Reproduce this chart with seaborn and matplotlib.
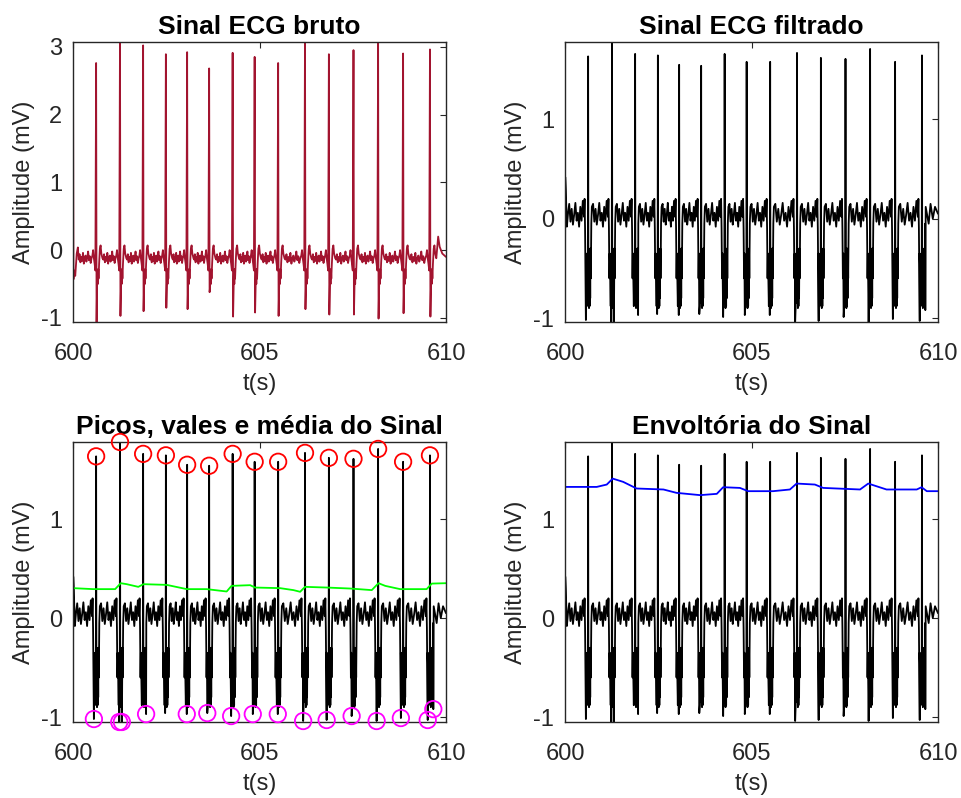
import numpy as np
import pandas as pd
import matplotlib
matplotlib.use("Agg")
import matplotlib.pyplot as plt
import seaborn as sns

# ---------------- data ----------------
r_times = [600.62, 601.26, 601.88, 602.49, 603.06, 603.65, 604.28, 604.87,
           605.50, 606.22, 606.86, 607.52, 608.18, 608.85, 609.57]

# raw ECG
raw_r_amp = [2.76, 3.20, 3.02, 2.89, 2.92, 2.68, 2.91, 2.85, 2.76, 3.25,
             2.89, 2.95, 3.15, 2.90, 2.96]
raw_s_depth = [-1.07, -0.97, -0.90, -0.85, -0.87, -0.62, -0.98, -0.92, -0.97,
               -0.87, -0.95, -0.95, -1.01, -0.93, -0.98]
raw_tmpl_off = [-0.10, -0.08, -0.06, -0.04, -0.02, 0.025, 0.035, 0.045, 0.055,
                0.065, 0.08, 0.10, 0.12, 0.14, 0.17]
raw_tmpl_val = [-0.08, 0.00, -0.12, -0.20, -0.30, -0.55, -0.30, -0.50, -0.28,
                -0.42, -0.20, 0.02, 0.07, -0.05, -0.12]
raw_wiggle = [-0.14, -0.06, -0.18, -0.10, -0.16, -0.04, -0.20, -0.12, -0.08,
              -0.17, -0.11, -0.02, -0.15, -0.09, -0.19, -0.12]
raw_head_t = [600.0, 600.012, 600.03, 600.06, 600.10, 600.13]
raw_head_v = [2.90, -0.43, -0.30, -0.38, -0.05, 0.04]
raw_tail_t = [609.79, 609.83, 609.90, 610.0]
raw_tail_v = [0.20, 0.05, -0.05, -0.10]

# filtered ECG
filt_peak = [1.635, 1.78, 1.66, 1.645, 1.55, 1.54, 1.66, 1.58, 1.58, 1.67,
             1.62, 1.61, 1.71, 1.58, 1.645]
valley_t = [600.56, 601.24, 601.31, 601.96, 603.05, 603.60, 604.24, 604.82,
            605.49, 606.17, 606.80, 607.47, 608.14, 608.79, 609.51, 609.66]
valley_v = [-1.02, -1.05, -1.05, -0.97, -0.97, -0.96, -0.99, -0.97, -0.97,
            -1.04, -1.03, -0.99, -1.04, -1.01, -1.03, -0.92]
extra_dip_t = [602.47]
extra_dip_v = [-0.96]
filt_tmpl_off = [-0.11, -0.095, -0.082, -0.07, -0.06, -0.035, -0.025, -0.015,
                 -0.006, 0.008, 0.016, 0.024, 0.032, 0.040, 0.048, 0.056, 0.064,
                 0.072, 0.085, 0.10]
filt_tmpl_val = [0.02, 0.20, -0.10, -0.60, -0.35, -0.88, -0.40, -0.85,
                 -0.45, -0.85, -0.30, -0.90, -0.45, -0.88, -0.35, -0.80, -0.30,
                 -0.60, -0.05, 0.12]
filt_wiggle = [0.15, -0.03, 0.10, -0.06, 0.04, 0.16, -0.02, 0.06, -0.08, 0.12,
               -0.02, 0.18]
filt_head_t = [600.0, 600.006, 600.02, 600.05, 600.08]
filt_head_v = [-0.78, 0.42, 0.30, -0.08, 0.05]
filt_tail_t = [609.75, 609.80, 609.86, 609.92, 610.0]
filt_tail_v = [-0.05, 0.15, 0.0, 0.12, 0.05]

# mean line (green) and envelope (blue)
mean_t = [600.0, 600.54, 601.13, 601.28, 601.44, 601.75, 601.89, 602.51, 603.05,
          603.58, 604.12, 604.25, 604.75, 604.88, 605.55, 605.91, 606.09, 606.22,
          606.80, 607.43, 608.01, 608.19, 608.37, 608.77, 609.48, 609.62, 610.0]
mean_v = [0.303, 0.293, 0.293, 0.353, 0.343, 0.316, 0.343, 0.336, 0.293,
          0.293, 0.269, 0.326, 0.333, 0.309, 0.303, 0.283, 0.266, 0.316,
          0.309, 0.299, 0.283, 0.353, 0.326, 0.293, 0.293, 0.349, 0.353]
env_t = [600.0, 600.85, 601.12, 601.28, 601.56, 601.92, 602.64, 602.99, 603.62,
         604.07, 604.24, 604.69, 604.91, 605.58, 606.03, 606.21, 606.70, 606.92,
         607.91, 608.13, 608.62, 609.43, 609.56, 609.70, 610.0]
env_v = [1.326, 1.326, 1.35, 1.41, 1.377, 1.31, 1.30, 1.266, 1.243,
         1.256, 1.323, 1.316, 1.283, 1.283, 1.30, 1.36, 1.35, 1.316,
         1.30, 1.36, 1.30, 1.30, 1.323, 1.283, 1.283]

titles = ["Sinal ECG bruto", "Sinal ECG filtrado",
          "Picos, vales e média do Sinal", "Envoltória do Sinal"]
xticks = [600, 605, 610]


def build(head_t, head_v, beats, tmpl_off, tmpl_val, wiggle, tail_t, tail_v):
    """beats: list of (R time, list of (time, value) extra points)."""
    ts = list(head_t)
    vs = list(head_v)
    for r, extra in beats:
        start = r + tmpl_off[0]
        prev_end = ts[-1]
        pos = np.linspace(prev_end, start, len(wiggle) + 2)[1:-1]
        ts += list(pos)
        vs += list(wiggle)
        pts = [(r + o, v) for o, v in zip(tmpl_off, tmpl_val)] + extra
        pts.sort(key=lambda p: p[0])
        ts += [p[0] for p in pts]
        vs += [p[1] for p in pts]
    ts += list(tail_t)
    vs += list(tail_v)
    return np.array(ts), np.array(vs)


raw_beats = [(r, [(r, a), (r + 0.012, s)])
             for r, a, s in zip(r_times, raw_r_amp, raw_s_depth)]
raw_t, raw_v = build(raw_head_t, raw_head_v, raw_beats, raw_tmpl_off,
                     raw_tmpl_val, raw_wiggle, raw_tail_t, raw_tail_v)

all_dt = valley_t + extra_dip_t
all_dv = valley_v + extra_dip_v
filt_beats = []
for r, p in zip(r_times, filt_peak):
    extra = [(r, p)]
    for dt, dv in zip(all_dt, all_dv):
        if abs(dt - r) < 0.12:
            extra.append((dt, dv))
    filt_beats.append((r, extra))
filt_t, filt_v = build(filt_head_t, filt_head_v, filt_beats, filt_tmpl_off,
                       filt_tmpl_val, filt_wiggle, filt_tail_t, filt_tail_v)

raw_df = pd.DataFrame({"t": raw_t, "v": raw_v})
filt_df = pd.DataFrame({"t": filt_t, "v": filt_v})
peaks_df = pd.DataFrame({"t": r_times, "v": filt_peak})
valleys_df = pd.DataFrame({"t": valley_t, "v": valley_v})
mean_df = pd.DataFrame({"t": mean_t, "v": mean_v})
env_df = pd.DataFrame({"t": env_t, "v": env_v})

# ---------------- styling ----------------
sns.set_style("white")
plt.rcParams["font.family"] = ["Liberation Sans", "DejaVu Sans"]
plt.rcParams["axes.unicode_minus"] = False
FS_T = 19
FS_L = 17
FS_K = 17

fig = plt.figure(figsize=(9.62, 7.98), dpi=100)
L1, L2, W = 73 / 962, 565 / 962, 373 / 962
B1, B2, H = 1 - 322 / 798, 1 - 722 / 798, 280 / 798
axes = [fig.add_axes([L1, B1, W, H]), fig.add_axes([L2, B1, W, H]),
        fig.add_axes([L1, B2, W, H]), fig.add_axes([L2, B2, W, H])]

LW = 1.3
sns.lineplot(data=raw_df, x="t", y="v", ax=axes[0], color="#A2142F", lw=LW,
             estimator=None, sort=False)
sns.lineplot(data=filt_df, x="t", y="v", ax=axes[1], color="black", lw=LW,
             estimator=None, sort=False)
sns.lineplot(data=filt_df, x="t", y="v", ax=axes[2], color="black", lw=LW,
             estimator=None, sort=False)
sns.lineplot(data=mean_df, x="t", y="v", ax=axes[2], color="#00FF00", lw=LW,
             estimator=None, sort=False)
sns.lineplot(data=filt_df, x="t", y="v", ax=axes[3], color="black", lw=LW,
             estimator=None, sort=False)
sns.lineplot(data=env_df, x="t", y="v", ax=axes[3], color="#0000FF", lw=LW,
             estimator=None, sort=False)

for df, col in [(peaks_df, "#FF0000"), (valleys_df, "#FF00FF")]:
    sns.scatterplot(data=df, x="t", y="v", ax=axes[2], marker="o", s=140,
                    linewidth=1.3, zorder=5, clip_on=False)
    coll = axes[2].collections[-1]
    coll.set_facecolor("none")
    coll.set_edgecolor(col)

ylims = [(-1.06, 3.07), (-1.04, 1.78), (-1.05, 1.78), (-1.05, 1.78)]
yticks = [[-1, 0, 1, 2, 3], [-1, 0, 1], [-1, 0, 1], [-1, 0, 1]]
for ax, title, yl, yt in zip(axes, titles, ylims, yticks):
    ax.set_xlim(600, 610)
    ax.set_ylim(*yl)
    ax.set_xticks(xticks)
    ax.set_yticks(yt)
    ax.set_title(title, fontsize=FS_T, fontweight="bold", color="black", pad=6)
    ax.set_xlabel("t(s)", fontsize=FS_L, color="0.15", labelpad=6)
    ax.set_ylabel("Amplitude (mV)", fontsize=FS_L, color="0.15", labelpad=4)
    ax.tick_params(axis="x", pad=15)
    ax.tick_params(axis="y", pad=8)
    ax.tick_params(direction="in", top=True, right=True, length=4, width=0.8,
                   colors="0.15", labelsize=FS_K)
    for sp in ax.spines.values():
        sp.set_visible(True)
        sp.set_color("0.15")
        sp.set_linewidth(1.0)

fig.savefig("out.png", dpi=100, facecolor="white")
